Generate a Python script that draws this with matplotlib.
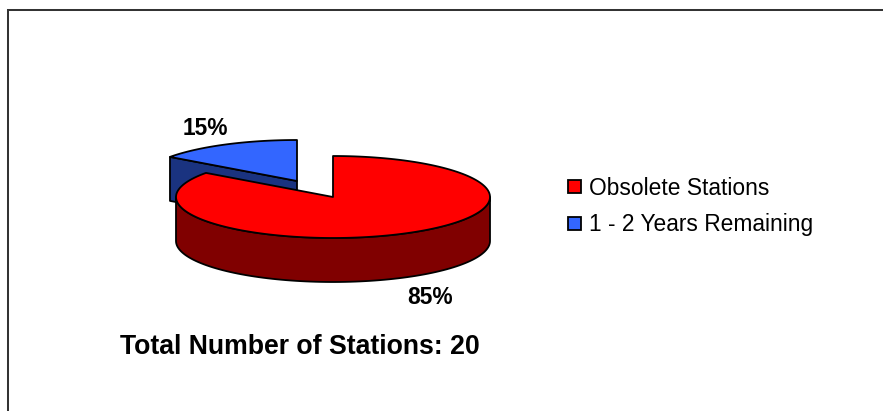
import numpy as np
import matplotlib
matplotlib.use("Agg")
import matplotlib.pyplot as plt
from matplotlib.patches import Rectangle

labels = ["Obsolete Stations", "1 - 2 Years Remaining"]
values = [85, 15]
pct_labels = ["85%", "15%"]
top_colors = ["#FF0000", "#3366FF"]
side_colors = ["#800000", "#1A3380"]
total_text = "Total Number of Stations: 20"

W, H = 883, 411
plt.rcParams["font.family"] = ["Liberation Sans", "DejaVu Sans"]
fig = plt.figure(figsize=(W / 100, H / 100), dpi=100)
ax = fig.add_axes([0, 0, 1, 1])
ax.set_xlim(0, W)
ax.set_ylim(H, 0)
ax.axis("off")

EDGE = dict(edgecolor="black", linewidth=1.3, joinstyle="round")
RX, RY, DEPTH = 157, 41, 44


def ell(cx, cy, angles):
    """Ellipse points; angle measured clockwise from 12 o'clock, in degrees."""
    t = np.radians(angles)
    return cx + RX * np.sin(t), cy - RY * np.cos(t)


fractions = np.array(values) / sum(values)
red_sweep = 360 * fractions[0]
blue_sweep = 360 * fractions[1]

# Exploded slice (blue) sits up and left of the main one
bx, by = 297, 181
b_ang = np.linspace(360 - blue_sweep, 360, 40)
ex, ey = ell(bx, by, b_ang)
# cut face of the blue slice, from its rim to the apex
ax.fill([ex[0], ex[0], bx, bx], [ey[0], ey[0] + DEPTH, by + DEPTH, by],
        facecolor=side_colors[1], zorder=1, **EDGE)
ax.fill(np.r_[bx, ex], np.r_[by, ey], facecolor=top_colors[1], zorder=2, **EDGE)

# Main slice (red)
rx0, ry0 = 333, 197
r_ang = np.linspace(0, red_sweep, 160)
sx, sy = ell(rx0, ry0, r_ang)
# rim wall: only the front half of the ellipse is visible
front = np.linspace(90, 270, 100)
fx, fy = ell(rx0, ry0, front)
ax.fill(np.r_[fx, fx[::-1]], np.r_[fy, fy[::-1] + DEPTH],
        facecolor=side_colors[0], zorder=3, **EDGE)
ax.fill(np.r_[rx0, sx], np.r_[ry0, sy], facecolor=top_colors[0], zorder=4, **EDGE)

# Percentage labels
ax.text(205.5, 128, pct_labels[1], fontsize=16.4, fontweight="bold", ha="center", va="center", color="black")
ax.text(430.5, 297, pct_labels[0], fontsize=16.4, fontweight="bold", ha="center", va="center", color="black")

# Total caption
ax.text(299.5, 354, total_text, fontsize=19.2, fontweight="bold", ha="center", va="baseline", color="black")

# Legend
for lab, col, y in zip(labels, top_colors, [187, 223]):
    ax.add_patch(Rectangle((567.5, y - 6.5), 13, 13, facecolor=col, edgecolor="black", linewidth=1.3))
    ax.text(589, y + 1.5, lab, fontsize=16.4, ha="left", va="center", color="black")

# Frame: only the top and left edges
ax.plot([8, 8, W], [H, 10, 10], color="#333333", linewidth=1.45, solid_joinstyle="miter", clip_on=False)

fig.savefig("out.png", dpi=100, facecolor="white")
